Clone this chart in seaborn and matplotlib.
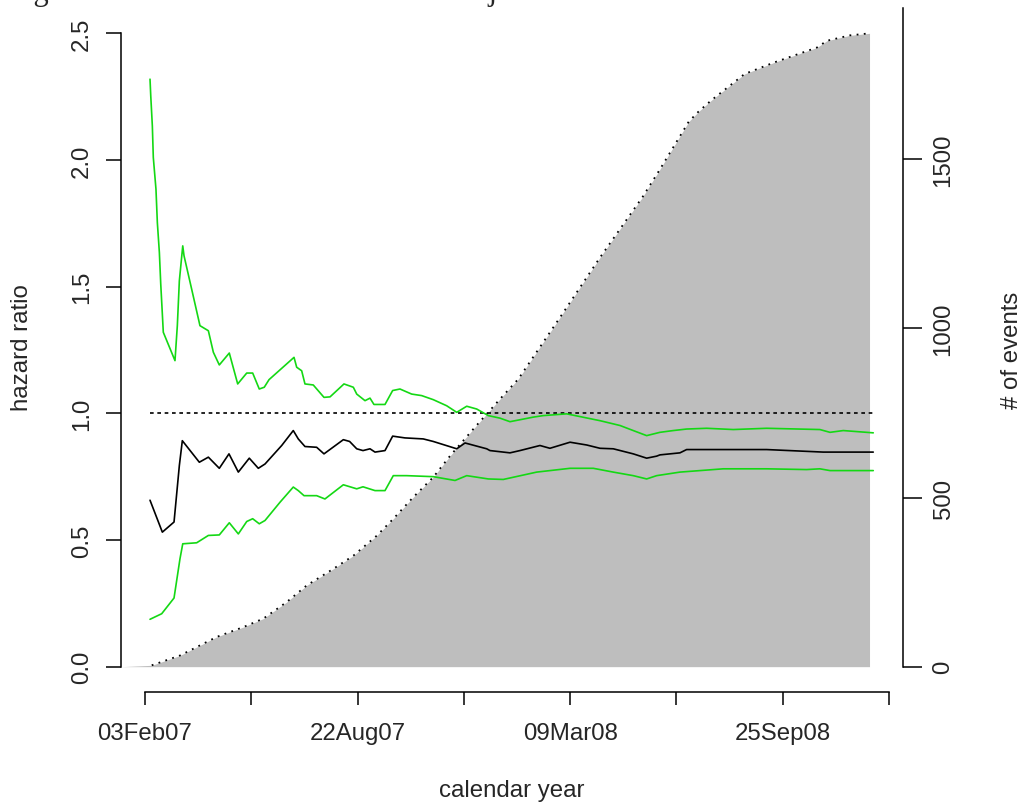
import numpy as np
import pandas as pd
import matplotlib
matplotlib.use("Agg")
import matplotlib.pyplot as plt
import seaborn as sns

# ---- data (days since 03Feb07) ----
hr_days = [4.7, 16.3, 27.3, 32.3, 35.1, 51.1, 59.6, 69.9, 79.0, 87.8, 98.1, 106.6,
           112.9, 128.6, 139.5, 144.2, 150.5, 161.5, 168.4, 186.6, 192.5, 199.2, 205.1,
           211.7, 216.4, 225.8, 233.0, 244.6, 261.8, 271.2, 293.3, 301.1, 321.5, 324.6,
           343.4, 352.8, 371.6, 381.0, 399.9, 415.6, 428.1, 440.6, 459.4, 472.0, 481.4,
           484.5, 503.3, 509.6, 528.5, 584.9, 638.2, 685.2]
hr_vals = [0.657, 0.531, 0.571, 0.794, 0.892, 0.807, 0.827, 0.783, 0.840, 0.768, 0.823,
           0.783, 0.800, 0.873, 0.932, 0.899, 0.869, 0.866, 0.840, 0.896, 0.889, 0.860,
           0.853, 0.860, 0.847, 0.853, 0.910, 0.903, 0.899, 0.889, 0.860, 0.883, 0.860,
           0.853, 0.844, 0.853, 0.873, 0.862, 0.886, 0.875, 0.862, 0.860, 0.840, 0.823,
           0.831, 0.836, 0.844, 0.857, 0.857, 0.857, 0.847, 0.847]

upper_days = [4.7, 5.4, 6.9, 7.8, 10.3, 11.6, 13.5, 14.8, 16.3, 17.2, 28.2, 30.4, 32.3,
              35.5, 36.7, 43.9, 51.7, 59.6, 64.3, 69.9, 79.3, 87.2, 95.7, 101.3, 107.5,
              112.2, 116.7, 140.2, 142.7, 147.4, 150.5, 158.3, 168.4, 174.1, 187.2, 196.0,
              199.2, 207.0, 211.7, 215.4, 225.8, 233.0, 239.9, 250.9, 260.3, 271.2, 283.8,
              293.3, 302.7, 312.1, 323.0, 334.0, 343.4, 365.3, 374.7, 396.7, 428.1, 446.9,
              459.4, 472.0, 484.5, 497.0, 509.6, 528.5, 553.5, 584.9, 635.0, 644.5, 657.0,
              685.2]
upper_vals = [2.319, 2.253, 2.134, 2.010, 1.885, 1.753, 1.635, 1.510, 1.392, 1.320, 1.208,
              1.346, 1.523, 1.661, 1.622, 1.490, 1.346, 1.326, 1.241, 1.191, 1.238, 1.116,
              1.159, 1.159, 1.096, 1.103, 1.133, 1.221, 1.182, 1.168, 1.116, 1.112, 1.063,
              1.065, 1.116, 1.103, 1.076, 1.050, 1.060, 1.035, 1.035, 1.090, 1.096, 1.076,
              1.070, 1.054, 1.030, 1.004, 1.028, 1.017, 0.991, 0.981, 0.967, 0.985, 0.991,
              0.998, 0.971, 0.952, 0.932, 0.912, 0.925, 0.932, 0.938, 0.941, 0.936, 0.941,
              0.936, 0.925, 0.932, 0.923]

lower_days = [4.7, 15.7, 27.3, 32.9, 35.5, 48.6, 59.6, 69.9, 79.3, 87.8, 95.7, 101.3,
              107.5, 112.9, 127.0, 139.5, 144.2, 149.6, 161.5, 169.3, 186.6, 199.2, 205.1,
              216.4, 225.8, 233.6, 246.2, 271.2, 291.7, 302.7, 323.0, 337.1, 368.5, 399.9,
              421.8, 440.6, 459.4, 472.0, 481.4, 503.3, 522.2, 544.1, 584.9, 622.5, 635.0,
              644.5, 685.2]
lower_vals = [0.187, 0.209, 0.271, 0.426, 0.485, 0.489, 0.518, 0.520, 0.568, 0.524, 0.573,
              0.584, 0.564, 0.577, 0.649, 0.709, 0.695, 0.675, 0.675, 0.662, 0.718, 0.702,
              0.710, 0.695, 0.695, 0.754, 0.754, 0.750, 0.735, 0.754, 0.741, 0.739, 0.768,
              0.783, 0.783, 0.768, 0.754, 0.741, 0.754, 0.768, 0.774, 0.781, 0.781, 0.778,
              0.781, 0.774, 0.774]

event_days = [6.3, 32.9, 67.5, 92.5, 111.3, 133.3, 152.1, 177.1, 196.0, 218.0, 233.6,
              252.4, 271.2, 287.0, 308.8, 334.0, 351.2, 390.4, 428.0, 468.3, 483.7, 511.6,
              520.9, 533.2, 564.2, 592.0, 632.2, 641.6, 663.2, 681.7]
event_counts = [4, 33, 88, 117, 142, 191, 240, 289, 328, 387, 437, 501, 560, 623, 702,
                791, 850, 1032, 1209, 1389, 1466, 1611, 1641, 1675, 1752, 1786, 1830, 1850,
                1866, 1872]

reference_hr = 1.0
x_ticks = [0, 100, 200, 300, 400, 500, 600, 700]
x_ticklabels = ["03Feb07", "", "22Aug07", "", "09Mar08", "", "25Sep08", ""]
hr_ticks = [0.0, 0.5, 1.0, 1.5, 2.0, 2.5]
hr_ticklabels = ["0.0", "0.5", "1.0", "1.5", "2.0", "2.5"]
ev_ticks = [0, 500, 1000, 1500]
ev_ticklabels = ["0", "500", "1000", "1500"]

sns.set_theme(style="white")
plt.rcParams["font.family"] = ["Liberation Sans", "DejaVu Sans"]

W, H = 1021, 803
fig = plt.figure(figsize=(W / 100, H / 100), dpi=100)
ax = fig.add_axes([121 / W, 1 - 693 / H, 782 / W, 684 / H])
ax2 = ax.twinx()

GREEN = "#14d814"
GRAY = "#bebebe"
TICK_FS = 17.3

# cumulative events (right scale)
ev_max = max(event_counts)
ax2.set_ylim(-0.04 * ev_max, 1.04 * ev_max)
xmin, xmax = -22.6, 713.2
fill_x = [xmin] + event_days
fill_y = [0] + event_counts
ax2.fill_between(fill_x, 0, fill_y, color=GRAY, linewidth=0, zorder=1)
ev_df = pd.DataFrame({"day": event_days, "events": event_counts})
sns.lineplot(data=ev_df, x="day", y="events", ax=ax2, color="black",
             linewidth=1.3, linestyle=(0, (1, 3)), estimator=None, sort=False, zorder=2)

# hazard ratio and confidence limits (left scale), drawn above the events
ax.set_zorder(ax2.get_zorder() + 1)
ax.patch.set_visible(False)
ax.set_ylim(-0.1, 2.6)
ax.set_xlim(xmin, xmax)
ax2.set_xlim(xmin, xmax)

ax.plot([min(hr_days), max(hr_days)], [reference_hr, reference_hr], color="black",
        linewidth=1.2, linestyle=(0, (2.2, 2.2)))
for d, v, c in [(upper_days, upper_vals, GREEN), (lower_days, lower_vals, GREEN),
                (hr_days, hr_vals, "black")]:
    sns.lineplot(x=d, y=v, ax=ax, color=c, linewidth=1.2, estimator=None, sort=False)

# axes styling
for s in ["top", "right"]:
    ax.spines[s].set_visible(False)
for s in ["top", "left", "bottom"]:
    ax2.spines[s].set_visible(False)
ax.spines["left"].set_bounds(0, 2.5)
ax.spines["bottom"].set_bounds(0, 700)
ax2.spines["right"].set_bounds(0, 1.04 * ev_max)
for sp in [ax.spines["left"], ax.spines["bottom"], ax2.spines["right"]]:
    sp.set_color("black")
    sp.set_linewidth(1.1)

ax.set_xticks(x_ticks)
ax.set_xticklabels(x_ticklabels, fontsize=TICK_FS)
ax.set_yticks(hr_ticks)
ax.set_yticklabels(hr_ticklabels, fontsize=TICK_FS, rotation=90, va="center")
ax2.set_yticks(ev_ticks)
ax2.set_yticklabels(ev_ticklabels, fontsize=TICK_FS, rotation=90, va="center")
ax.tick_params(axis="x", bottom=True, length=9.4, width=1.1, color="black", pad=12.3)
ax.tick_params(axis="y", left=True, length=10.8, width=1.1, color="black", pad=9.4)
ax2.tick_params(axis="y", right=True, length=13.7, width=1.1, color="black", pad=7.6)
ax.set_xlabel("")
ax.set_ylabel("")
ax2.set_ylabel("")
ax.grid(False)
ax2.grid(False)

fig.text(22 / W, 1 - 348 / H, "hazard ratio", rotation=90, ha="center", va="center",
         fontsize=TICK_FS)
fig.text(1012 / W, 1 - 350 / H, "# of events", rotation=90, ha="center", va="center",
         fontsize=TICK_FS)
fig.text(512 / W, 1 - 791 / H, "calendar year", ha="center", va="center", fontsize=TICK_FS)
# caption line running off the top edge of the page
fig.text(8 / W, 1.0, "Figure 4: Hazard Ratio Plot for All Subjects in the Trial",
         ha="left", va="baseline", fontsize=22, family=["Liberation Serif", "DejaVu Serif"])

fig.savefig("out.png", dpi=100, facecolor="white")
